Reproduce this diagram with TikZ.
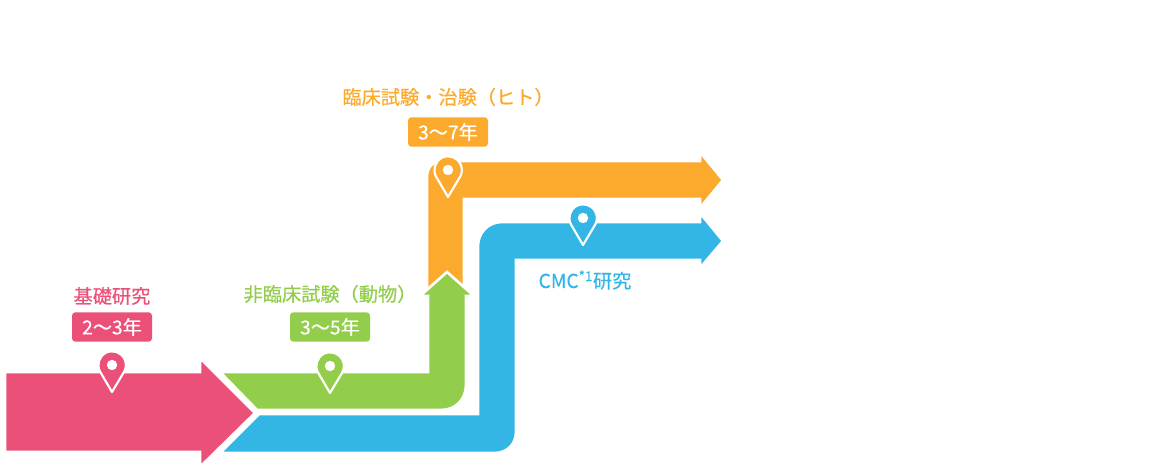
\documentclass[tikz,border=0pt]{standalone}
\usepackage{fontspec}
\setmainfont{Noto Sans CJK JP}[FakeBold=0.5]
\usepackage{xcolor}
\usepackage{tikz}
\definecolor{basiccolor}{HTML}{EA5078}
\definecolor{animalcolor}{HTML}{92CE4B}
\definecolor{humancolor}{HTML}{FBAA2D}
\definecolor{cmccolor}{HTML}{33B5E5}
\tikzset{
  band/.style={fill=#1, draw=white, line width=2pt, line join=miter},
  phase/.style={text=#1, font=\fontsize{14.4pt}{16pt}\selectfont},
  years/.style={fill=#1, text=white, rounded corners=2.5pt, minimum width=60pt, minimum height=22pt, inner sep=0pt, font=\fontsize{14.4pt}{16pt}\selectfont},
  pics/mappin/.style={code={
    \path[fill=#1, draw=white, line width=1.6pt, line join=round] (0,0) -- (-12,-20.5) arc[start angle=208, end angle=-28, radius=10.3pt] -- cycle;
    \fill[white] (0,-27) circle[radius=3.9pt];
  }}
}
\begin{document}
\begin{tikzpicture}[x=0.75pt, y=-0.75pt]%
\useasboundingbox (0,0) rectangle (1163,473);%
% CMC
\path[band=cmccolor] (220,453) -- (259,414) -- (478,414) -- (478,246) .. controls (478,233) and (488,222) .. (502,222) -- (700,222) -- (700,213) -- (723,241) -- (700,268) -- (700,260) -- (516,260) -- (516,432) .. controls (516,444) and (507,453) .. (495,453) -- cycle;%
% human
\path[band=humancolor] (427,292) -- (427,176) .. controls (427,168) and (433,161) .. (441,161) -- (700,161) -- (700,152) -- (723,180) -- (700,208) -- (700,199) -- (464,199) -- (464,292) -- cycle;%
% animal
\path[band=animalcolor] (220,372) -- (428,372) -- (428,296) -- (420,296) -- (447,272) -- (474,296) -- (466,296) -- (466,385) .. controls (466,399) and (456,410) .. (441,410) -- (257,410) -- cycle;%
% basic
\path[band=basiccolor] (5,372) -- (200,372) -- (200,358) -- (255,413) -- (200,467) -- (200,452) -- (5,452) -- cycle;%
\pic at (112,392) {mappin=basiccolor};%
\pic at (330,393) {mappin=animalcolor};%
\pic at (448,197) {mappin=humancolor};%
\pic at (583,245) {mappin=cmccolor};%
\node[phase=basiccolor] (basic) at (112,296) {基礎研究};%
\node[years=basiccolor] (basicyears) at (112,327) {2～3年};%
\node[phase=animalcolor] (animal) at (330,294) {非臨床試験（動物）};%
\node[years=animalcolor] (animalyears) at (330,327) {3～5年};%
\node[phase=humancolor] (human) at (448,97) {臨床試験・治験（ヒト）};%
\node[years=humancolor] (humanyears) at (448,132) {3～7年};%
\node[phase=cmccolor] (cmc) at (585,280) {CMC\textsuperscript{*1}研究};%
\end{tikzpicture}
\end{document}
